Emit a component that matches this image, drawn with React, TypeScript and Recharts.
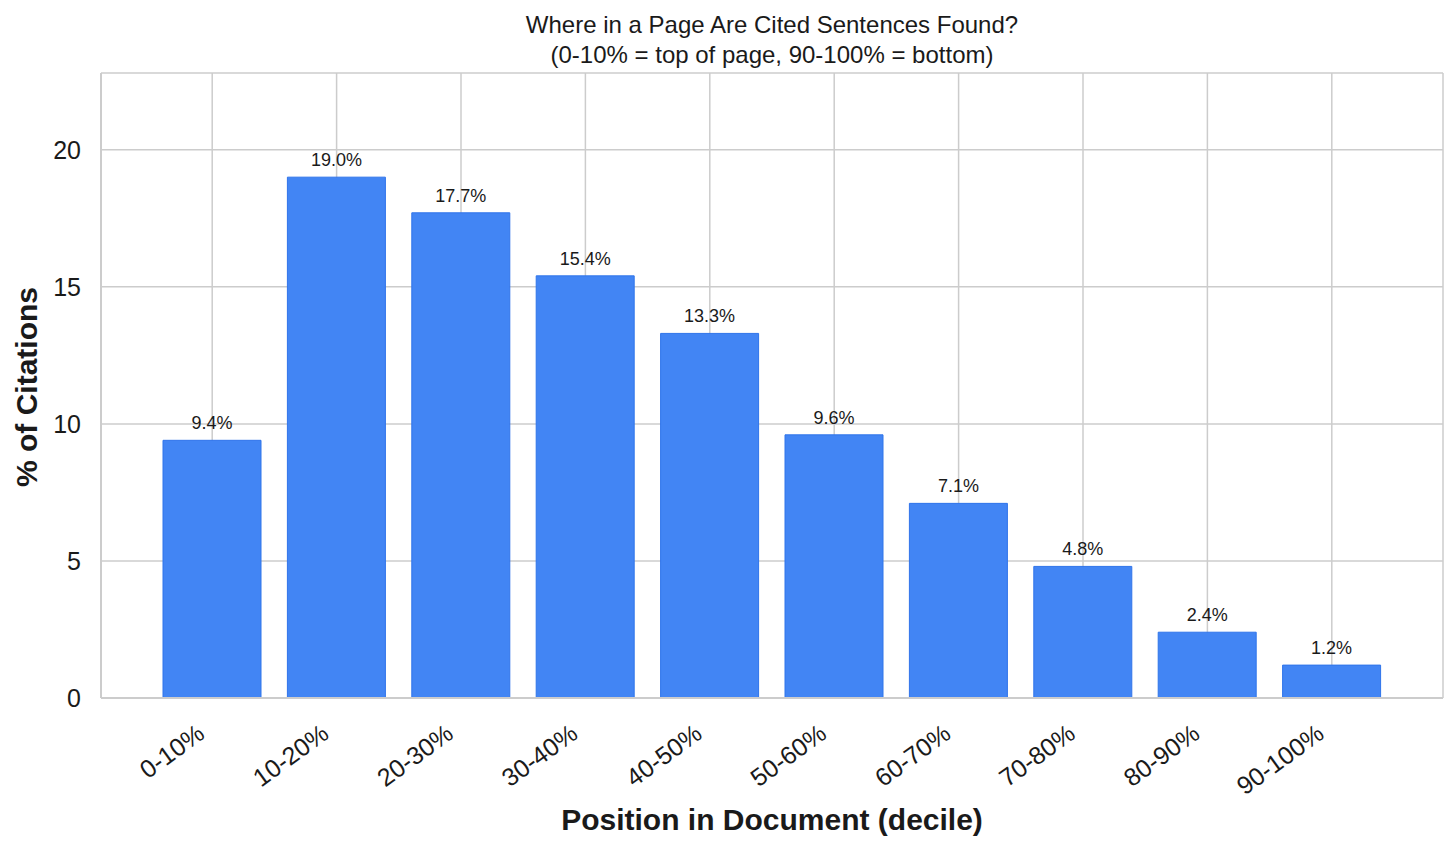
import React from "react";
import { BarChart, Bar, XAxis, YAxis, CartesianGrid, LabelList } from "recharts";

const categories = ["0-10%", "10-20%", "20-30%", "30-40%", "40-50%", "50-60%", "60-70%", "70-80%", "80-90%", "90-100%"];
const citationPct = [9.4, 19.0, 17.7, 15.4, 13.3, 9.6, 7.1, 4.8, 2.4, 1.2];
const yTicks = [0, 5, 10, 15, 20];

const data = categories.map((c, i) => ({ cat: c, value: citationPct[i] }));

const FONT = "'Liberation Sans', Arial, Helvetica, sans-serif";
const TEXT = "#1a1a1a";
const GRID = "#cccccc";

const XTick = (props: any) => {
  const { x, y, payload } = props;
  const ax = x - 6;
  const ay = y + 37;
  return (
    <text
      x={ax}
      y={ay}
      textAnchor="end"
      transform={`rotate(-36, ${ax}, ${ay})`}
      fontSize={25}
      fontFamily={FONT}
      fill={TEXT}
    >
      {payload.value}
    </text>
  );
};

export default function App() {
  return (
    <div style={{ position: "absolute", left: 0, top: 0, width: 1456, height: 851, background: "#fff", fontFamily: FONT }}>
      <div style={{ position: "absolute", left: 101, width: 1342, top: 10, textAlign: "center", fontSize: 24, lineHeight: "30px", color: TEXT }}>
        Where in a Page Are Cited Sentences Found?
        <br />
        (0-10% = top of page, 90-100% = bottom)
      </div>
      <div
        style={{
          position: "absolute",
          left: 101,
          width: 1342,
          top: 803,
          textAlign: "center",
          fontSize: 30,
          fontWeight: "bold",
          color: TEXT,
        }}
      >
        Position in Document (decile)
      </div>
      <div
        style={{
          position: "absolute",
          left: 27,
          top: 387,
          transform: "translate(-50%, -50%) rotate(-90deg)",
          whiteSpace: "nowrap",
          fontSize: 30,
          fontWeight: "bold",
          color: TEXT,
        }}
      >
        % of Citations
      </div>
      <div style={{ position: "absolute", left: 0, top: 0 }}>
        <BarChart
          width={1456}
          height={851}
          data={data}
          margin={{ top: 73, right: 13, bottom: 0, left: 0 }}
          barCategoryGap={13}
        >
          <CartesianGrid stroke={GRID} strokeWidth={1.5} />
          <XAxis
            dataKey="cat"
            padding={{ left: 49, right: 49 }}
            height={153}
            tickLine={false}
            tickSize={0}
            axisLine={{ stroke: GRID, strokeWidth: 2 }}
            tick={<XTick />}
            interval={0}
          />
          <XAxis xAxisId="top" orientation="top" dataKey="cat" height={0} tick={false} tickLine={false} axisLine={{ stroke: GRID, strokeWidth: 2 }} />
          <YAxis
            domain={[0, 22.8]}
            ticks={yTicks}
            width={101}
            tickLine={false}
            tickSize={0}
            tickMargin={20}
            axisLine={{ stroke: GRID, strokeWidth: 2 }}
            tick={{ fontSize: 25, fontFamily: FONT, fill: TEXT }}
            allowDataOverflow
          />
          <YAxis yAxisId="right" orientation="right" width={0} tick={false} tickLine={false} axisLine={{ stroke: GRID, strokeWidth: 2 }} />
          <Bar dataKey="value" fill="#4285F4" stroke="#2f74ea" strokeWidth={1} isAnimationActive={false}>
            <LabelList
              dataKey="value"
              position="top"
              offset={11}
              formatter={(v: any) => `${Number(v).toFixed(1)}%`}
              style={{ fontSize: 18, fontFamily: FONT, fill: TEXT }}
            />
          </Bar>
        </BarChart>
      </div>
    </div>
  );
}
